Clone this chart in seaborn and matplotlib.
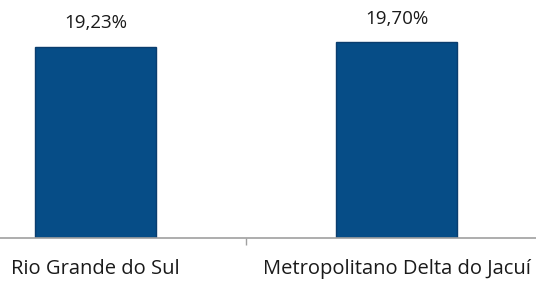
import pandas as pd
import seaborn as sns
import matplotlib.pyplot as plt

# data
categories = ['Rio Grande do Sul', 'Metropolitano Delta do Jacuí']
values = [19.23, 19.70]
value_labels = ['19,23%', '19,70%']

df = pd.DataFrame({'regiao': categories, 'valor': values})

sns.set_style('white')
plt.rcParams['font.family'] = ['Open Sans', 'DejaVu Sans']

fig = plt.figure(figsize=(5.36, 2.82), dpi=100)
ax = fig.add_axes([0, 44 / 282, 1, 238 / 282])

sns.barplot(data=df, x='regiao', y='valor', color='#064d87', width=0.4,
            edgecolor='#0a3d6e', linewidth=1.0, saturation=1, ax=ax)

for i, (v, lab) in enumerate(zip(values, value_labels)):
    ax.annotate(lab, (i, v), xytext=(0, 17), textcoords='offset points',
                ha='center', va='center', fontsize=13.5, color='#1a1a1a')

ax.set_xlim(-0.317, 1.463)
ax.set_ylim(0, 23.94)
ax.set_xlabel('')
ax.set_ylabel('')
ax.set_yticks([])

# separator tick between categories, labels under the bars
ax.set_xticks([0.5])
ax.set_xticklabels([''])
ax.set_xticks([0, 1], minor=True)
ax.set_xticklabels(categories, minor=True, fontsize=14.5, color='#1a1a1a')
ax.tick_params(axis='x', which='major', length=5, width=1, color='#a0a0a0',
               direction='out', bottom=True)
ax.tick_params(axis='x', which='minor', length=0, pad=15)

for side in ['top', 'right', 'left']:
    ax.spines[side].set_visible(False)
ax.spines['bottom'].set_color('#a0a0a0')
ax.spines['bottom'].set_linewidth(1.2)

fig.savefig('out.png', dpi=100)
